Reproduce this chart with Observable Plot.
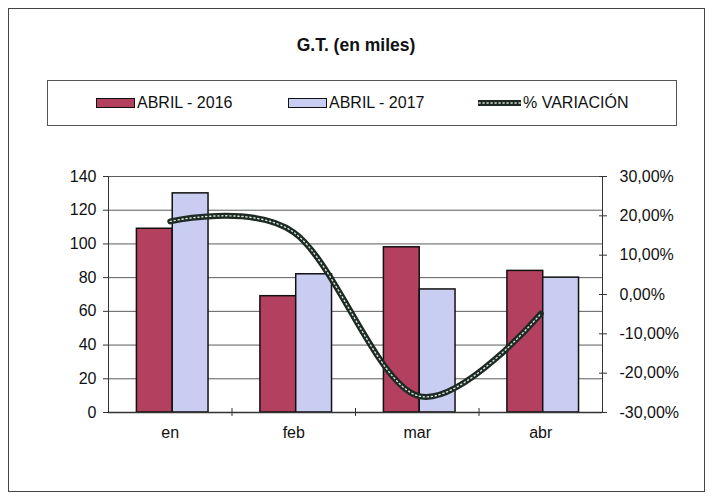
<!DOCTYPE html>
<html>
<head>
<meta charset="utf-8">
<script src="https://cdn.jsdelivr.net/npm/d3@7"></script>
<script src="https://cdn.jsdelivr.net/npm/@observablehq/plot@0.6"></script>
<style>
  html, body { margin: 0; padding: 0; background: #fff; }
  #wrap { position: relative; width: 712px; height: 496px; font-family: "Liberation Sans", Arial, sans-serif; color: #111; overflow: hidden; }
  #frame { position: absolute; left: 8px; top: 8px; width: 697px; height: 484px; border: 1px solid #444; box-sizing: border-box; }
  #title { position: absolute; left: 0; width: 712px; top: 34px; text-align: center; font-weight: bold; font-size: 17.5px; line-height: 22px; }
  #legend { position: absolute; left: 47px; top: 80px; width: 630px; height: 46px; border: 1px solid #555; box-sizing: border-box; }
  .li { position: absolute; top: 0; height: 44px; display: flex; align-items: center; font-size: 16px; white-space: nowrap; }
  .sw { display: inline-block; width: 37px; height: 8px; border: 1.5px solid #111; margin-right: 2px; }
  #chart { position: absolute; left: 0; top: 140px; }
</style>
</head>
<body>
<div id="wrap">
  <div id="frame"></div>
  <div id="title">G.T. (en miles)</div>
  <div id="legend"></div>
  <div id="chart"></div>
</div>
<script>
const months = ["en", "feb", "mar", "abr"];
const series = ["ABRIL - 2016", "ABRIL - 2017", "% VARIACIÓN"];
const v2016 = [109, 69, 98, 84];
const v2017 = [130, 82, 73, 80];
const variacion = [0.186, 0.158, -0.257, -0.049];
const leftTicks = [0, 20, 40, 60, 80, 100, 120, 140];
const rightTicks = [-0.3, -0.2, -0.1, 0, 0.1, 0.2, 0.3];

const colors = { c2016: "#b3405f", c2017: "#c8cdf1", lineDark: "#1c2a23", lineDots: "#d6e4da" };

const pct = d3.formatLocale({ decimal: ",", thousands: ".", grouping: [3], currency: ["", "€"], minus: "-" }).format(".2%");
const toY = p => (p - rightTicks[0]) / (rightTicks[rightTicks.length - 1] - rightTicks[0]) * 140;

const table = months.map((m, i) => ({ m, i, a: v2016[i], b: v2017[i], v: variacion[i] }));
const barW = 0.29;

// Legend
const legend = document.getElementById("legend");
legend.innerHTML = `
  <div class="li" style="left:48px"><span class="sw" style="background:${colors.c2016}"></span>${series[0]}</div>
  <div class="li" style="left:240px"><span class="sw" style="background:${colors.c2017}"></span>${series[1]}</div>
  <div class="li" style="left:429px"><svg width="45" height="10" style="margin-right:1px">
     <line x1="1" y1="5" x2="44" y2="5" stroke="${colors.lineDark}" stroke-width="6"/>
     <line x1="2" y1="5" x2="44" y2="5" stroke="${colors.lineDots}" stroke-width="1.4" stroke-dasharray="1.2,2.8" stroke-linecap="round"/>
   </svg>${series[2]}</div>`;

const chart = Plot.plot({
  width: 712,
  height: 352,
  marginTop: 36,
  marginBottom: 80,
  marginLeft: 108,
  marginRight: 110,
  style: { fontFamily: "Liberation Sans, Arial, sans-serif", fontSize: "16px", color: "#111", background: "transparent", overflow: "visible" },
  x: { type: "linear", domain: [0, months.length] },
  y: { domain: [0, 140] },
  marks: [
    Plot.gridY(leftTicks, { stroke: "#333", strokeOpacity: 0.8 }),
    Plot.rectY(table, { x1: d => d.i + 0.52 - barW, x2: d => d.i + 0.52, y: "a", fill: colors.c2016, stroke: "#111", strokeWidth: 1.5 }),
    Plot.rectY(table, { x1: d => d.i + 0.52, x2: d => d.i + 0.52 + barW, y: "b", fill: colors.c2017, stroke: "#111", strokeWidth: 1.5 }),
    Plot.ruleX([0, months.length], { stroke: "#333" }),
    Plot.ruleY([0], { stroke: "#333", strokeWidth: 1.3 }),
    Plot.axisY({ ticks: leftTicks, tickSize: 5, tickPadding: 7, fontSize: 16, label: null, stroke: "#333" }),
    Plot.axisY({ anchor: "right", ticks: rightTicks.map(toY), tickSize: 8, dx: -4, tickFormat: () => "", label: null, stroke: "#333" }),
    Plot.axisY({ anchor: "right", ticks: rightTicks.map(toY), tickSize: 0, tickPadding: 17, tickFormat: d => pct(rightTicks[Math.round(d / 140 * 6)]), fontSize: 16, label: null }),
    Plot.axisX({ ticks: [1, 2, 3], tickSize: 8, dy: -4, tickFormat: () => "", label: null, stroke: "#333" }),
    Plot.axisX({ ticks: months.map((m, i) => i + 0.5), tickSize: 0, tickPadding: 14, tickFormat: d => months[Math.floor(d)], fontSize: 16, label: null }),
    Plot.line(table, { x: d => d.i + 0.5, y: d => toY(d.v), curve: "cardinal", stroke: colors.lineDark, strokeWidth: 6 }),
    Plot.line(table, { x: d => d.i + 0.5, y: d => toY(d.v), curve: "cardinal", stroke: colors.lineDots, strokeWidth: 1.4, strokeDasharray: "1.2,2.8", strokeLinecap: "round" })
  ]
});
document.getElementById("chart").appendChild(chart);
</script>
</body>
</html>
